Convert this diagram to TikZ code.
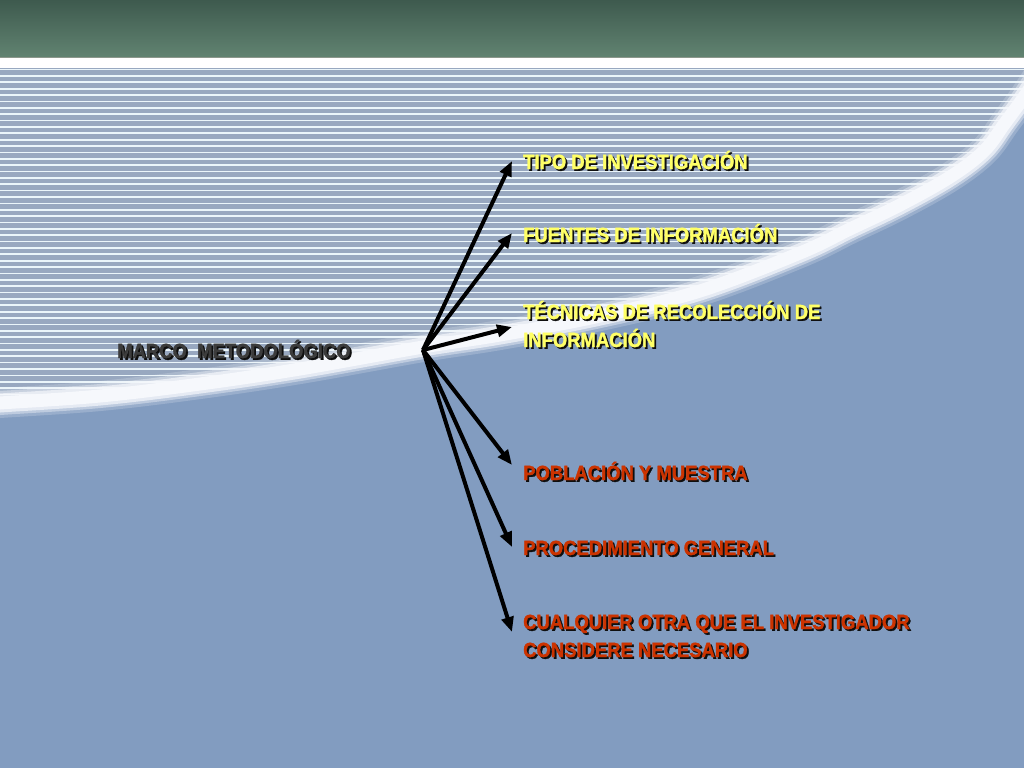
\documentclass[tikz,border=0pt]{standalone}
\usepackage{fontspec}
\setmainfont{Liberation Sans}[FakeStretch=0.9, BoldFeatures={FakeBold=1.6}]
\usetikzlibrary{arrows.meta}
\definecolor{bgblue}{RGB}{130,156,192}
\definecolor{stripebase}{RGB}{152,168,192}
\definecolor{stripeline}{RGB}{234,245,250}
\definecolor{topdark}{RGB}{62,90,78}
\definecolor{toplight}{RGB}{97,131,113}
\definecolor{topline}{RGB}{140,152,140}
\definecolor{bandwhite}{RGB}{246,248,252}
\definecolor{labyellow}{RGB}{255,255,102}
\definecolor{labred}{RGB}{204,51,0}
\definecolor{labgray}{RGB}{60,60,60}
\definecolor{shadowc}{RGB}{15,15,15}
\newcommand\shd[1]{\leavevmode\rlap{\kern1.8pt\raisebox{-1.8pt}{\textcolor{shadowc}{#1}}}#1}
\tikzset{
  lab/.style={anchor=base west, inner sep=0pt, font=\bfseries\fontsize{20.5}{28}\selectfont, align=left},
  arr/.style={line width=4pt, -{Triangle[length=15pt,width=12pt]}, black},
  band/.style={line cap=round, line join=round},
}
\begin{document}
\begin{tikzpicture}[x=1pt,y=-1pt]
\useasboundingbox (0,0) rectangle (1024,768);
\fill[bgblue] (0,0) rectangle (1024,768);
% striped region above the curve
\begin{scope}
  \clip (-10,60) -- (1040,60) -- plot[smooth,tension=0.6] coordinates {(1040,72) (1024,96) (1005,122) (984,150) (950,176) (900,204) (850,228) (800,252) (700,290) (600,315) (500,334) (423,346) (300,368) (200,383) (100,395) (0,402) (-10,403)} -- cycle;
  \fill[stripebase] (0,60) rectangle (1024,420);
  \foreach \i in {0,...,55} {
    \draw[stripeline, line width=1.7pt] (0,{69.6+6.37*\i}) -- (1024,{69.6+6.37*\i});
  }
\end{scope}
% white curved band
\draw[band, bandwhite, opacity=0.2, line width=30pt] plot[smooth,tension=0.6] coordinates {(-10,404) (0,403) (100,396) (200,384) (300,369) (423,347) (500,335) (600,316) (700,291) (800,253) (850,229) (900,205) (950,177) (984,151) (1005,123) (1024,97) (1040,73)};
\draw[band, bandwhite, opacity=0.4, line width=24pt] plot[smooth,tension=0.6] coordinates {(-10,404) (0,403) (100,396) (200,384) (300,369) (423,347) (500,335) (600,316) (700,291) (800,253) (850,229) (900,205) (950,177) (984,151) (1005,123) (1024,97) (1040,73)};
\draw[band, bandwhite, opacity=0.7, line width=19pt] plot[smooth,tension=0.6] coordinates {(-10,404) (0,403) (100,396) (200,384) (300,369) (423,347) (500,335) (600,316) (700,291) (800,253) (850,229) (900,205) (950,177) (984,151) (1005,123) (1024,97) (1040,73)};
\draw[band, bandwhite, line width=13pt] plot[smooth,tension=0.6] coordinates {(-10,404) (0,403) (100,396) (200,384) (300,369) (423,347) (500,335) (600,316) (700,291) (800,253) (850,229) (900,205) (950,177) (984,151) (1005,123) (1024,97) (1040,73)};
% top band
\shade[top color=topdark, bottom color=toplight] (0,0) rectangle (1024,57);
\draw[topline, line width=1pt] (0,57.5) -- (1024,57.5);
\fill[white] (0,58) rectangle (1024,68.3);
% labels
\node[lab, text=labgray] (marco) at (117,358) {\shd{MARCO\ \ METODOLÓGICO}};
\node[lab, text=labyellow] (t1) at (523,169) {\shd{TIPO DE INVESTIGACIÓN}};
\node[lab, text=labyellow] (t2) at (523,242) {\shd{FUENTES DE INFORMACIÓN}};
\node[lab, text=labyellow] (t3) at (523,347) {\shd{TÉCNICAS DE RECOLECCIÓN DE}\\\shd{INFORMACIÓN}};
\node[lab, text=labred] (t4) at (523,480) {\shd{POBLACIÓN Y MUESTRA}};
\node[lab, text=labred] (t5) at (523,555) {\shd{PROCEDIMIENTO GENERAL}};
\node[lab, text=labred] (t6) at (523,657) {\shd{CUALQUIER OTRA QUE EL INVESTIGADOR}\\\shd{CONSIDERE NECESARIO}};
% arrows
\coordinate (hub) at (423,350);
\coordinate (e1) at (512,161);
\coordinate (e2) at (512,233);
\coordinate (e3) at (512,327);
\coordinate (e4) at (512,465);
\coordinate (e5) at (512,547);
\coordinate (e6) at (512,632);
\foreach \e in {e1,e2,e3,e4,e5,e6} { \draw[arr] (hub) -- (\e); }
\end{tikzpicture}
\end{document}
